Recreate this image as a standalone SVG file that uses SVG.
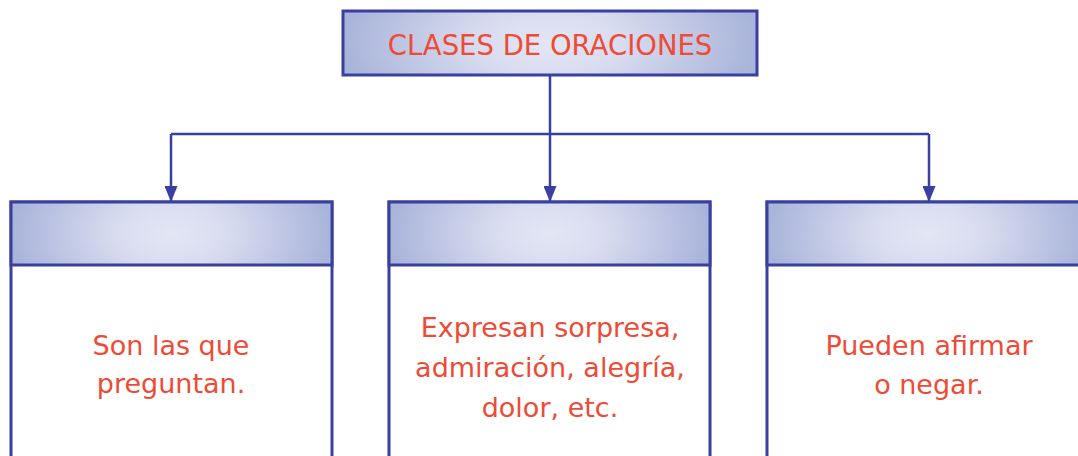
<svg xmlns="http://www.w3.org/2000/svg" width="1078" height="456" viewBox="0 0 1078 456">
<style>
.box{stroke:#3b3f9f;stroke-width:3;}
.hdr{fill:url(#g);}
.body{fill:#ffffff;}
.conn{fill:none;stroke:#3b3f9f;stroke-width:2.5;}
text{font-family:"DejaVu Sans","Liberation Sans",sans-serif;fill:#ee4a35;text-anchor:middle;font-size:27px;}
</style>
<defs>
<radialGradient id="g" cx="0.5" cy="0.5" r="0.5" gradientUnits="objectBoundingBox" gradientTransform="translate(0.5,0.5) scale(1,3) translate(-0.5,-0.5)">
<stop offset="0" stop-color="#e3e6f4"/>
<stop offset="0.35" stop-color="#d8dcef"/>
<stop offset="1" stop-color="#a9b4da"/>
</radialGradient>
<marker id="arr" viewBox="0 0 12 10" refX="12" refY="5" markerWidth="6.4" markerHeight="5.2" markerUnits="strokeWidth" orient="auto" preserveAspectRatio="none">
<path d="M0,0 L12,5 L0,10 z" fill="#3b3f9f"/>
</marker>
</defs>
<g id="connectors">
<path class="conn" d="M550,75 V134"/>
<path class="conn" d="M171,134 H929"/>
<path class="conn" d="M171,134 V202" marker-end="url(#arr)"/>
<path class="conn" d="M550,134 V202" marker-end="url(#arr)"/>
<path class="conn" d="M929,134 V202" marker-end="url(#arr)"/>
</g>
<g id="title">
<rect class="box hdr" x="343" y="11" width="414" height="64"/>
<text x="550" y="55" style="font-size:27.5px">CLASES DE ORACIONES</text>
</g>
<g id="node-left">
<rect class="box body" x="11" y="202" width="321" height="270"/>
<rect class="box hdr" x="11" y="202" width="321" height="63"/>
<text x="171" y="355">Son las que</text>
<text x="171" y="393">preguntan.</text>
</g>
<g id="node-middle">
<rect class="box body" x="389" y="202" width="321" height="270"/>
<rect class="box hdr" x="389" y="202" width="321" height="63"/>
<text x="550" y="337">Expresan sorpresa,</text>
<text x="550" y="377">admiración, alegría,</text>
<text x="550" y="417">dolor, etc.</text>
</g>
<g id="node-right">
<rect class="box body" x="767" y="202" width="321" height="270"/>
<rect class="box hdr" x="767" y="202" width="321" height="63"/>
<text x="929" y="355">Pueden afirmar</text>
<text x="929" y="394">o negar.</text>
</g>
</svg>
